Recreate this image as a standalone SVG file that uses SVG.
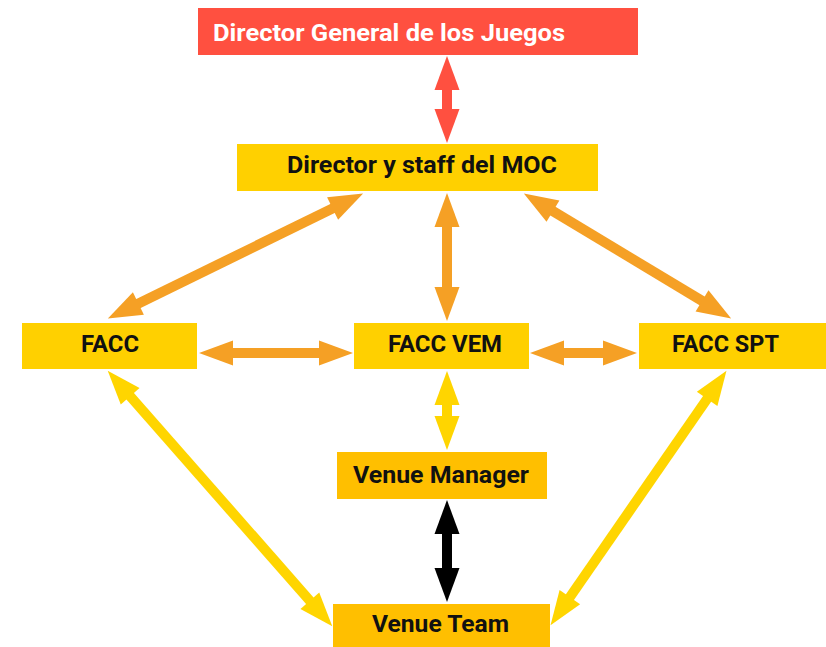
<svg xmlns="http://www.w3.org/2000/svg" width="826" height="647" viewBox="0 0 826 647">
<style>
.lbl{font-family:Roboto,"DejaVu Sans",sans-serif;font-weight:700;font-size:24px;text-anchor:middle;fill:#111}
.ttl{fill:#fff;font-size:23px}
.c{fill:none;stroke-width:10;stroke-linecap:butt}
.red{stroke:#FF5040;marker-start:url(#hr);marker-end:url(#hr)}
.org{stroke:#F5A025;marker-start:url(#ho);marker-end:url(#ho)}
.yel{stroke:#FFD500;marker-start:url(#hy);marker-end:url(#hy)}
.blk{stroke:#000;marker-start:url(#hk);marker-end:url(#hk)}
</style>
<defs>
<marker id="hr" markerUnits="userSpaceOnUse" markerWidth="36" markerHeight="26" refX="1" refY="12.5" orient="auto-start-reverse" overflow="visible"><path d="M0,0 L34,12.5 L0,25 z" fill="#FF5040"/></marker>
<marker id="ho" markerUnits="userSpaceOnUse" markerWidth="36" markerHeight="26" refX="1" refY="12.5" orient="auto-start-reverse" overflow="visible"><path d="M0,0 L34,12.5 L0,25 z" fill="#F5A025"/></marker>
<marker id="hy" markerUnits="userSpaceOnUse" markerWidth="36" markerHeight="26" refX="1" refY="12.5" orient="auto-start-reverse" overflow="visible"><path d="M0,0 L34,12.5 L0,25 z" fill="#FFD500"/></marker>
<marker id="hk" markerUnits="userSpaceOnUse" markerWidth="36" markerHeight="26" refX="1" refY="12.5" orient="auto-start-reverse" overflow="visible"><path d="M0,0 L34,12.5 L0,25 z" fill="#000"/></marker>
</defs>
<rect width="826" height="647" fill="#fff"/>
<g id="connectors">
<line class="c red" x1="447" y1="89" x2="447" y2="110"/>
<line class="c org" x1="447" y1="226" x2="447" y2="288"/>
<line class="c org" x1="333.5" y1="208" x2="137.5" y2="304"/>
<line class="c org" x1="552.1" y1="210.6" x2="702.9" y2="301.4"/>
<line class="c org" x1="232" y1="353" x2="320" y2="353"/>
<line class="c org" x1="563" y1="353" x2="604" y2="353"/>
<line class="c yel" x1="447" y1="404" x2="447" y2="417"/>
<line class="c blk" x1="447" y1="533" x2="447" y2="569"/>
<line class="c yel" x1="129.5" y1="395.5" x2="310.5" y2="601.5"/>
<line class="c yel" x1="707.7" y1="398" x2="569.3" y2="598"/>
</g>
<g id="director-general"><rect x="198" y="8" width="440" height="47" fill="#FF5040"/><text class="lbl ttl" x="389" y="41" textLength="352" lengthAdjust="spacingAndGlyphs">Director General de los Juegos</text></g>
<g id="moc"><rect x="237" y="144" width="361" height="47" fill="#FFD000"/><text class="lbl" x="422" y="173" font-size="23" textLength="270" lengthAdjust="spacingAndGlyphs">Director y staff del MOC</text></g>
<g id="facc"><rect x="22" y="323" width="175" height="46" fill="#FFD000"/><text class="lbl" x="110" y="352" textLength="58" lengthAdjust="spacingAndGlyphs">FACC</text></g>
<g id="facc-vem"><rect x="354" y="323" width="175" height="46" fill="#FFD000"/><text class="lbl" x="445" y="352" textLength="114" lengthAdjust="spacingAndGlyphs">FACC VEM</text></g>
<g id="facc-spt"><rect x="639" y="323" width="187" height="46" fill="#FFD000"/><text class="lbl" x="725.5" y="352" textLength="107" lengthAdjust="spacingAndGlyphs">FACC SPT</text></g>
<g id="venue-manager"><rect x="337" y="452" width="210" height="47" fill="#FFBF00"/><text class="lbl" x="441" y="483" textLength="176" lengthAdjust="spacingAndGlyphs">Venue Manager</text></g>
<g id="venue-team"><rect x="333" y="604" width="217" height="43" fill="#FFBF00"/><text class="lbl" x="440.5" y="632" textLength="137" lengthAdjust="spacingAndGlyphs">Venue Team</text></g>
</svg>
